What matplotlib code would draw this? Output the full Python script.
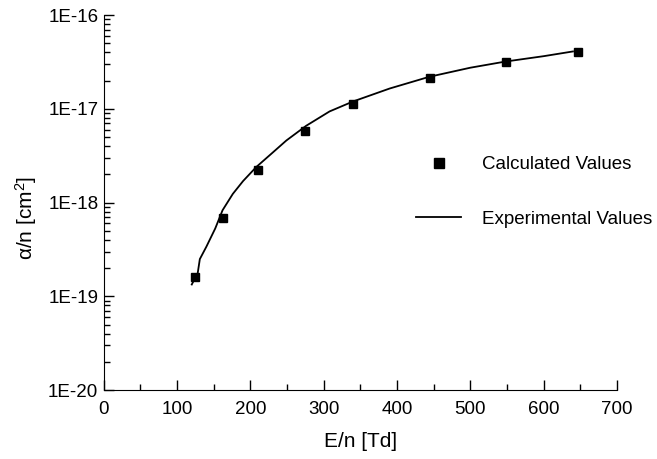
import matplotlib
matplotlib.use("Agg")
import matplotlib.pyplot as plt
import numpy as np
from matplotlib.ticker import FuncFormatter, LogLocator, MultipleLocator, NullFormatter

plt.rcParams['font.family'] = ['Liberation Sans', 'DejaVu Sans']
plt.rcParams['mathtext.fontset'] = 'custom'
plt.rcParams['mathtext.rm'] = 'Liberation Sans'
plt.rcParams['mathtext.it'] = 'Liberation Sans:italic'

# calculated values (squares)
calc_en = [125, 163, 210, 275, 340, 445, 548, 647]
calc_alpha = [1.6e-19, 6.9e-19, 2.23e-18, 5.8e-18, 1.14e-17, 2.16e-17, 3.15e-17, 4.03e-17]

# experimental values (line)
exp_en = [120, 125, 128, 131, 140, 152, 162, 176, 190, 208, 230, 249, 276,
          308, 340, 390, 444, 500, 548, 600, 640]
exp_alpha = [1.34e-19, 1.6e-19, 1.75e-19, 2.5e-19, 3.4e-19, 5.3e-19, 8.3e-19,
             1.24e-18, 1.7e-18, 2.4e-18, 3.4e-18, 4.6e-18, 6.6e-18, 9.4e-18,
             1.2e-17, 1.65e-17, 2.2e-17, 2.75e-17, 3.2e-17, 3.65e-17, 4.1e-17]

y_ticks = [1e-20, 1e-19, 1e-18, 1e-17, 1e-16]

fig = plt.figure(figsize=(6.57, 4.59), dpi=100)
ax = fig.add_axes([0.158, 0.150, 0.781, 0.817])

ax.plot(calc_en, calc_alpha, 's', color='black', markersize=5.2, label='Calculated Values')
ax.plot(exp_en, exp_alpha, '-', color='black', linewidth=1.3, label='Experimental Values')

ax.set_yscale('log')
ax.set_xlim(0, 700)
ax.set_ylim(1e-20, 1e-16)
ax.xaxis.set_major_locator(MultipleLocator(100))
ax.xaxis.set_minor_locator(MultipleLocator(50))
ax.set_yticks(y_ticks)
ax.yaxis.set_minor_locator(LogLocator(base=10, subs=np.arange(2, 10), numticks=20))
ax.yaxis.set_minor_formatter(NullFormatter())
ax.yaxis.set_major_formatter(FuncFormatter(lambda v, p: '1E%d' % round(np.log10(v))))

ax.spines['top'].set_visible(False)
ax.spines['right'].set_visible(False)
ax.tick_params(which='both', direction='in', labelsize=13.5)
ax.tick_params(which='major', length=7, width=1)
ax.tick_params(which='minor', length=4, width=1)
ax.tick_params(axis='x', which='both', pad=8)
ax.tick_params(axis='y', which='both', pad=4)

ax.set_xlabel('E/n [Td]', fontsize=15)
ax.xaxis.set_label_coords(0.5, -0.112)
ax.set_ylabel('α/n [cm$^2$]', fontsize=15)
ax.yaxis.set_label_coords(-0.126, 0.459)

leg = ax.legend(loc='center left', bbox_to_anchor=(0.576, 0.528), frameon=False,
                fontsize=13.5, labelspacing=2.0, handlelength=2.4, handletextpad=1.1,
                markerscale=1.5)

fig.savefig('out.png', dpi=100)
